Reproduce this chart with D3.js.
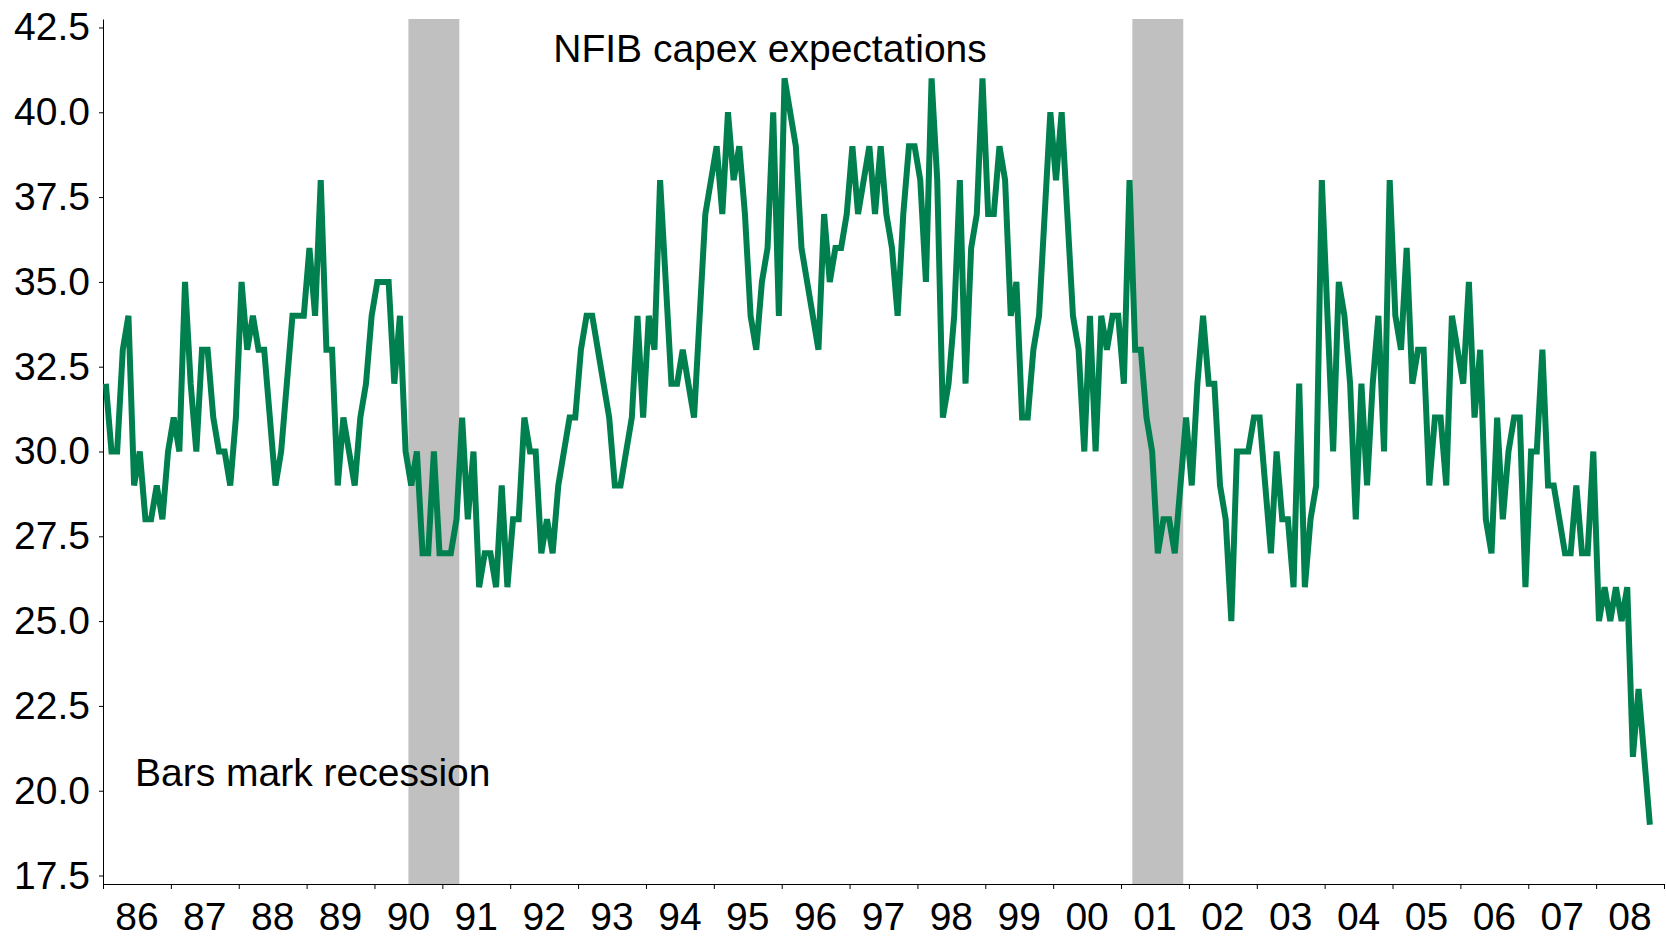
<!DOCTYPE html>
<html>
<head>
<meta charset="utf-8">
<script src="https://cdn.jsdelivr.net/npm/d3@7"></script>
<style>
  body { margin: 0; background: #fff; }
  text { font-family: "Liberation Sans", Arial, sans-serif; }
</style>
</head>
<body>
<svg id="chart" width="1666" height="940"></svg>
<script>
// NFIB capex expectations, monthly, Jan 1986 .. Oct 2008
var firstYear = 1986;
var capex = [
  32, 30, 30, 33, 34, 29, 30, 28, 28, 29, 28, 30,   // 86
  31, 30, 35, 32, 30, 33, 33, 31, 30, 30, 29, 31,   // 87
  35, 33, 34, 33, 33, 31, 29, 30, 32, 34, 34, 34,   // 88
  36, 34, 38, 33, 33, 29, 31, 30, 29, 31, 32, 34,   // 89
  35, 35, 35, 32, 34, 30, 29, 30, 27, 27, 30, 27,   // 90
  27, 27, 28, 31, 28, 30, 26, 27, 27, 26, 29, 26,   // 91
  28, 28, 31, 30, 30, 27, 28, 27, 29, 30, 31, 31,   // 92
  33, 34, 34, 33, 32, 31, 29, 29, 30, 31, 34, 31,   // 93
  34, 33, 38, 35, 32, 32, 33, 32, 31, 34, 37, 38,   // 94
  39, 37, 40, 38, 39, 37, 34, 33, 35, 36, 40, 34,   // 95
  41, 40, 39, 36, 35, 34, 33, 37, 35, 36, 36, 37,   // 96
  39, 37, 38, 39, 37, 39, 37, 36, 34, 37, 39, 39,   // 97
  38, 35, 41, 38, 31, 32, 34, 38, 32, 36, 37, 41,   // 98
  37, 37, 39, 38, 34, 35, 31, 31, 33, 34, 37, 40,   // 99
  38, 40, 37, 34, 33, 30, 34, 30, 34, 33, 34, 34,   // 00
  32, 38, 33, 33, 31, 30, 27, 28, 28, 27, 29, 31,   // 01
  29, 32, 34, 32, 32, 29, 28, 25, 30, 30, 30, 31,   // 02
  31, 29, 27, 30, 28, 28, 26, 32, 26, 28, 29, 38,   // 03
  34, 30, 35, 34, 32, 28, 32, 29, 32, 34, 30, 38,   // 04
  34, 33, 36, 32, 33, 33, 29, 31, 31, 29, 34, 33,   // 05
  32, 35, 31, 33, 28, 27, 31, 28, 30, 31, 31, 26,   // 06
  30, 30, 33, 29, 29, 28, 27, 27, 29, 27, 27, 30,   // 07
  25, 26, 25, 26, 25, 26, 21, 23, 21, 19            // 08
];
var yearLabels = ["86", "87", "88", "89", "90", "91", "92", "93", "94", "95", "96", "97",
                  "98", "99", "00", "01", "02", "03", "04", "05", "06", "07", "08"];
var yTicks = [17.5, 20, 22.5, 25, 27.5, 30, 32.5, 35, 37.5, 40, 42.5];
// recessions as [year, first month, year, last month]
var recessions = [[1990, 7, 1991, 3], [2001, 3, 2001, 11]];
var chartTitle = "NFIB capex expectations";
var noteText = "Bars mark recession";

var svg = d3.select("#chart");
var fontSize = 39;

var x = d3.scaleLinear().domain([firstYear, firstYear + yearLabels.length]).range([103, 1664]);
var y = d3.scaleLinear().domain([17.25, 42.75]).range([884, 19]);

// recession bars
svg.selectAll(".rec").data(recessions).enter().append("rect")
    .attr("class", "rec")
    .attr("x", function (d) { return x(d[0] + (d[1] - 1) / 12); })
    .attr("width", function (d) { return x(d[2] + d[3] / 12) - x(d[0] + (d[1] - 1) / 12); })
    .attr("y", y(42.75))
    .attr("height", y(17.25) - y(42.75))
    .attr("fill", "#c0c0c0");

// y axis
var yAxis = d3.axisLeft(y).tickValues(yTicks).tickFormat(d3.format(".1f"))
    .tickSize(4).tickSizeOuter(0).tickPadding(9);
var gy = svg.append("g").attr("transform", "translate(" + x(firstYear) + ",0)").call(yAxis);
gy.selectAll("text").attr("font-size", fontSize).attr("fill", "#000")
    .style("font-family", "'Liberation Sans', Arial, sans-serif");
gy.selectAll("line, path").attr("stroke", "#000");

// x axis, labels sit between the year ticks
var years = d3.range(firstYear, firstYear + yearLabels.length + 1);
var xAxis = d3.axisBottom(x).tickValues(years).tickFormat("").tickSize(5).tickSizeOuter(0);
var gx = svg.append("g").attr("transform", "translate(0," + y(17.25) + ")").call(xAxis);
gx.selectAll("line, path").attr("stroke", "#000");

svg.selectAll(".xlab").data(yearLabels).enter().append("text")
    .attr("class", "xlab")
    .attr("x", function (d, i) { return x(firstYear + i + 0.5); })
    .attr("y", 930)
    .attr("text-anchor", "middle")
    .attr("font-size", fontSize)
    .text(function (d) { return d; });

// the series
var line = d3.line()
    .x(function (d, i) { return x(firstYear + (i + 0.5) / 12); })
    .y(function (d) { return y(d); });

svg.append("path").datum(capex)
    .attr("d", line)
    .attr("fill", "none")
    .attr("stroke", "#00804f")
    .attr("stroke-width", 6);

// texts
svg.append("text").attr("x", 770).attr("y", 62).attr("text-anchor", "middle")
    .attr("font-size", fontSize).text(chartTitle);
svg.append("text").attr("x", 135).attr("y", 786)
    .attr("font-size", fontSize).text(noteText);
</script>
</body>
</html>
